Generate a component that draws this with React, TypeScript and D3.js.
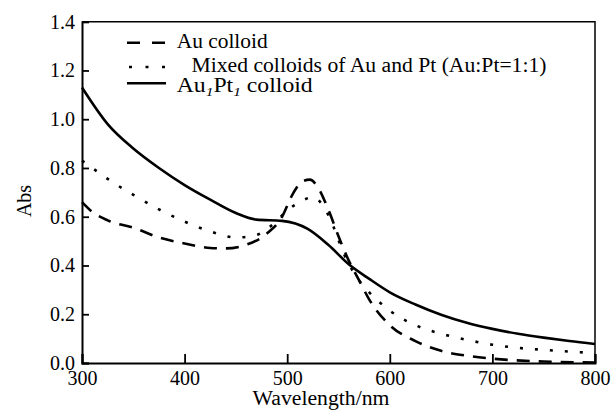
import { useEffect, useRef } from 'react'
import * as d3 from 'd3'

// Au colloid (dashed)
const auWavelength = [300, 310, 325, 350, 375, 400, 425, 440, 460, 480, 495, 505, 515, 522, 530, 540, 550, 560, 570, 580, 600, 625, 650, 675, 700, 750, 800]
const auAbs = [0.66, 0.62, 0.585, 0.555, 0.515, 0.49, 0.472, 0.47, 0.485, 0.53, 0.6, 0.69, 0.745, 0.752, 0.72, 0.63, 0.52, 0.42, 0.34, 0.26, 0.155, 0.09, 0.05, 0.03, 0.018, 0.006, 0.002]

// mixed colloids of Au and Pt (dotted)
const mixWavelength = [300, 310, 325, 350, 375, 400, 425, 450, 470, 485, 500, 512, 525, 535, 545, 555, 565, 580, 600, 625, 650, 675, 700, 725, 750, 775, 800]
const mixAbs = [0.83, 0.8, 0.755, 0.69, 0.63, 0.58, 0.54, 0.515, 0.525, 0.565, 0.625, 0.66, 0.68, 0.645, 0.56, 0.45, 0.37, 0.29, 0.215, 0.155, 0.12, 0.095, 0.075, 0.062, 0.054, 0.047, 0.041]

// Au1Pt1 colloid (solid)
const auptWavelength = [300, 325, 350, 375, 400, 425, 450, 470, 495, 520, 540, 560, 580, 600, 625, 650, 675, 700, 725, 750, 775, 800]
const auptAbs = [1.13, 0.98, 0.88, 0.8, 0.73, 0.67, 0.615, 0.588, 0.583, 0.55, 0.485, 0.405, 0.345, 0.29, 0.24, 0.198, 0.165, 0.14, 0.12, 0.104, 0.09, 0.078]

const xTicks = [300, 400, 500, 600, 700, 800]
const yTicks = [0, 0.2, 0.4, 0.6, 0.8, 1.0, 1.2, 1.4]

const series = [
  { name: 'Au colloid', xs: auWavelength, ys: auAbs, dash: '13 9' },
  { name: 'Mixed colloids of Au and Pt (Au:Pt=1:1)', xs: mixWavelength, ys: mixAbs, dash: '3 12' },
  { name: 'Au1Pt1 colloid', xs: auptWavelength, ys: auptAbs, dash: null },
]

const FONT = '"Liberation Serif", "Times New Roman", serif'

export default function App() {
  const svgRef = useRef<SVGSVGElement>(null)

  useEffect(() => {
    if (!svgRef.current) return
    const width = 612
    const height = 411
    const margin = { top: 21.7, right: 17, bottom: 48, left: 82 }
    const innerW = width - margin.left - margin.right
    const innerH = height - margin.top - margin.bottom

    const svg = d3.select(svgRef.current)
    svg.selectAll('*').remove()
    const g = svg.append('g').attr('transform', `translate(${margin.left},${margin.top})`)

    const x = d3.scaleLinear().domain([300, 800]).range([0, innerW])
    const y = d3.scaleLinear().domain([0, 1.4]).range([innerH, 0])

    // frame (top + right)
    g.append('path')
      .attr('d', `M0,0H${innerW}V${innerH}`)
      .attr('fill', 'none').attr('stroke', '#000').attr('stroke-width', 1.5)

    // curves
    const line = d3.line<[number, number]>()
      .x(d => x(d[0]))
      .y(d => y(d[1]))
      .curve(d3.curveMonotoneX)

    series.forEach(s => {
      const pts = s.xs.map((w, i) => [w, s.ys[i]] as [number, number])
      const p = g.append('path')
        .attr('d', line(pts))
        .attr('fill', 'none')
        .attr('stroke', '#000')
        .attr('stroke-width', 2.6)
      if (s.dash) p.attr('stroke-dasharray', s.dash)
    })

    // y axis, ticks pointing inward
    const yAxis = g.append('g')
      .call(d3.axisLeft(y).tickValues(yTicks).tickSize(-7).tickPadding(7).tickFormat(d3.format('.1f')))
    yAxis.select('.domain').attr('stroke-width', 2)
    yAxis.selectAll('line').attr('stroke-width', 1.8)
    yAxis.selectAll('text').attr('font-family', FONT).attr('font-size', 20).attr('fill', '#000')

    // x axis
    const xAxis = g.append('g')
      .attr('transform', `translate(0,${innerH})`)
      .call(d3.axisBottom(x).tickValues(xTicks).tickSize(-9).tickPadding(8))
    xAxis.select('.domain').attr('stroke-width', 2)
    xAxis.selectAll('line').attr('stroke-width', 1.8)
    xAxis.selectAll('text').attr('font-family', FONT).attr('font-size', 20).attr('fill', '#000')

    // axis titles
    svg.append('text')
      .attr('x', 321)
      .attr('y', 405)
      .attr('text-anchor', 'middle')
      .attr('font-family', FONT)
      .attr('font-size', 20)
      .attr('textLength', 137)
      .attr('lengthAdjust', 'spacingAndGlyphs')
      .text('Wavelength/nm')

    svg.append('text')
      .attr('transform', `translate(31,201) rotate(-90)`)
      .attr('text-anchor', 'middle')
      .attr('font-family', FONT)
      .attr('font-size', 20)
      .text('Abs')

    // legend
    const legendRows = [
      { lineY: 42.7, textY: 47.5, textX: 176.7, len: 91 },
      { lineY: 67, textY: 71.5, textX: 191.5, len: 355 },
      { lineY: 83.3, textY: 91.5, textX: 176.7, len: 136 },
    ]
    const legendDash = ['13 12', '3 13.5', null]
    series.forEach((s, i) => {
      const r = legendRows[i]
      const l = svg.append('line')
        .attr('x1', i === 1 ? 129 : 127).attr('x2', 166)
        .attr('y1', r.lineY).attr('y2', r.lineY)
        .attr('stroke', '#000').attr('stroke-width', 2.4)
      if (legendDash[i]) l.attr('stroke-dasharray', legendDash[i] as string)

      const t = svg.append('text')
        .attr('x', r.textX).attr('y', r.textY)
        .attr('font-family', FONT)
        .attr('font-size', 20)
        .attr('textLength', r.len)
        .attr('lengthAdjust', 'spacingAndGlyphs')
      if (i === 2) {
        t.append('tspan').text('Au')
        t.append('tspan').attr('font-size', 13).attr('font-style', 'italic').attr('dy', 4).text('1')
        t.append('tspan').attr('dy', -4).text('Pt')
        t.append('tspan').attr('font-size', 13).attr('font-style', 'italic').attr('dy', 4).text('1')
        t.append('tspan').attr('dy', -4).text(' colloid')
      } else {
        t.text(s.name)
      }
    })
  }, [])

  return (
    <div style={{ position: 'fixed', left: 0, top: 0, width: 612, height: 411, background: '#fff' }}>
      <svg ref={svgRef} width={612} height={411} />
    </div>
  )
}
